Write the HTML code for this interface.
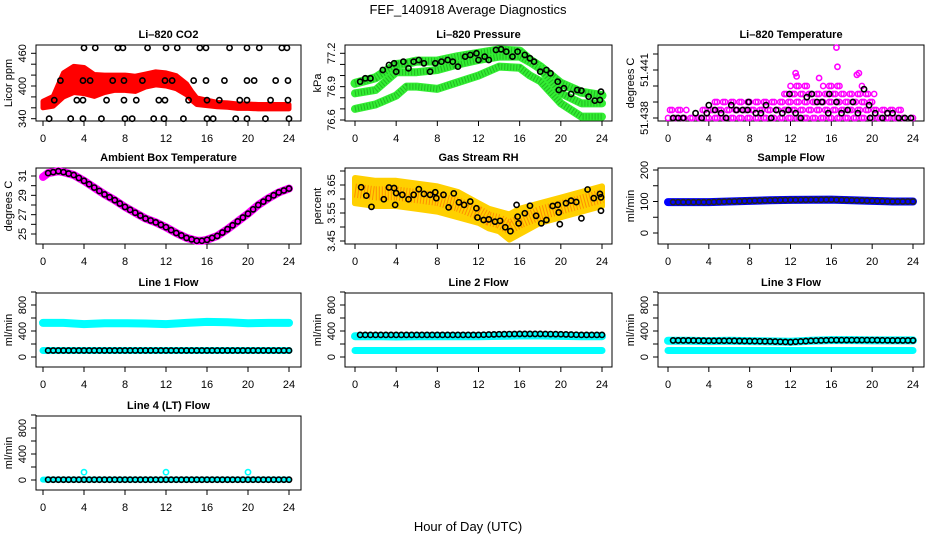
<!DOCTYPE html>
<html><head><meta charset="utf-8">
<style>
html,body{margin:0;padding:0;background:#fff;}
svg{display:block;font-family:"Liberation Sans",Arial,sans-serif;}
</style></head>
<body>
<svg id="chart" width="936" height="540" viewBox="0 0 936 540" xmlns="http://www.w3.org/2000/svg">
<rect x="0" y="0" width="936" height="540" fill="#fff"/>
<text x="468" y="14" font-size="13" text-anchor="middle">FEF_140918  Average Diagnostics</text>
<text x="468" y="531" font-size="13" text-anchor="middle">Hour of Day (UTC)</text>
</svg>
<script>
// ---------- data ----------
const xTicks = [0,4,8,12,16,20,24];

// CO2
const co2Hours = [0,1,2,3,4,5,6,7,8,9,10,11,12,13,14,14.5,15,16,17,18,19,20,21,22,23,24];
const co2Mid = [366,372,402,412,410,401,404,406,406,404,410,414,412,407,394,382,372,369,366,365,363,363,362,362,362,362];
const co2Spread = [6,9,22,24,24,20,16,14,14,14,12,12,12,12,10,8,6,5,4,4,4,4,4,4,4,4];
const co2RefHours = [4.0,5.1,7.3,7.8,10.2,12.0,13.1,15.3,15.9,18.2,19.9,21.1,23.3,23.8,
 1.7,3.9,4.6,6.8,7.9,9.7,11.9,12.6,14.7,15.9,17.7,19.9,20.6,22.7,23.9,
 1.1,3.3,3.9,6.2,7.9,9.1,11.3,11.9,14.2,16.0,17.2,19.2,19.9,22.2,23.9,
 0.6,2.7,3.9,5.7,8.0,8.7,10.8,11.8,13.7,16.0,16.6,18.8,19.9,21.7,24.0];
const co2RefVals = [470,470,470,470,470,470,470,470,470,470,470,470,470,470,
 410,410,410,410,410,410,410,410,410,410,410,410,410,410,410,
 374,374,374,374,374,374,374,374,374,374,374,374,374,374,374,
 340,340,340,340,340,340,340,340,340,340,340,340,340,340,340];

// Pressure
const pHours = [0,2,4,5,6,8,10,12,14,16,17,18,20,22,24];
const pTop = [76.93,76.98,77.10,77.11,77.13,77.13,77.17,77.20,77.23,77.22,77.14,77.08,76.93,76.85,76.82];
const pMid = [76.84,76.87,77.03,77.03,77.03,77.05,77.10,77.14,77.17,77.17,77.12,77.06,76.84,76.75,76.75];
const pLow = [76.70,76.74,76.82,76.90,76.90,76.88,76.94,77.00,77.08,77.07,77.00,76.95,76.75,76.63,76.63];
const pRefHours = [0.5,1,1.5,2.7,3.3,3.8,4,4.7,5.2,5.7,6.2,6.7,7.3,7.8,8.4,9,9.5,10,10.7,11.2,11.8,12,12.6,13,13.7,14.2,14.7,15.3,15.8,16.5,17,17.4,18,18.6,19,19.7,19.8,20.3,21,21.6,22,22.7,23.3,23.8,23.9];
const pRefVals = [76.945,76.975,76.975,77.05,77.095,77.11,77.035,77.125,77.065,77.125,77.14,77.11,77.035,77.11,77.125,77.14,77.125,77.08,77.17,77.185,77.2,77.14,77.17,77.14,77.23,77.236,77.215,77.17,77.215,77.185,77.155,77.125,77.035,77.05,77.02,76.945,76.87,76.885,76.834,76.87,76.864,76.81,76.774,76.78,76.855];

// Li-820 temperature (max per hour)
const tHours = [0,1,2,3,4,5,6,7,8,9,10,11,12,12.5,13,14,15,16,16.5,17,18,18.5,19,20,21,22,23,24];
const tMax = [51.4385,51.4385,51.4383,51.4385,51.439,51.439,51.439,51.439,51.4393,51.4393,51.4393,51.4395,51.440,51.4403,51.4403,51.4398,51.440,51.440,51.4403,51.4398,51.4398,51.4403,51.4398,51.4388,51.4388,51.4385,51.4383,51.4383];
const tOutHours = [16.5,16.6,18.7,12.5,14.8,12.6,18.5];
const tOutVals = [51.4424,51.4412,51.4408,51.4408,51.4405,51.4406,51.4407];
const tRefHours = [0.5,1,1.5,2.7,3.3,3.8,4,4.6,5.2,5.7,6.2,6.7,7.3,7.8,7.9,8.6,9.1,9.6,10.1,10.6,11.2,11.8,11.9,12.5,13,13.6,14.1,14.6,15.1,15.7,15.8,16.5,17,17.6,18.1,18.6,19.2,19.7,19.8,20.3,21,21.5,22,22.6,23.2,23.8];
const tRefVals = [51.438,51.438,51.438,51.4383,51.438,51.4383,51.4388,51.4385,51.4383,51.438,51.4388,51.4385,51.4385,51.4385,51.439,51.4383,51.4383,51.4388,51.438,51.4385,51.4383,51.4385,51.4395,51.4383,51.438,51.4393,51.4395,51.439,51.439,51.4383,51.4395,51.439,51.4383,51.4385,51.439,51.4383,51.4398,51.4388,51.438,51.4383,51.438,51.4383,51.4383,51.438,51.438,51.438];

// Ambient box temperature
const aHours = [0,0.5,1,1.5,2,3,4,5,6,7,8,9,10,11,12,13,14,15,15.5,16,17,18,19,20,21,22,23,24];
const aVals = [30.9,31.3,31.4,31.5,31.4,31.1,30.5,29.8,29.1,28.5,27.8,27.2,26.6,26.2,25.7,25.1,24.6,24.3,24.3,24.4,24.8,25.5,26.3,27.1,28.0,28.7,29.3,29.7];

// Gas stream RH
const rhHours = [0,2,4,6,8,10,12,13,14,15,16,18,20,22,24];
const rhMid = [3.63,3.62,3.62,3.61,3.60,3.58,3.55,3.53,3.52,3.50,3.52,3.55,3.57,3.59,3.61];
const rhSpread = [0.045,0.045,0.045,0.045,0.045,0.045,0.035,0.035,0.035,0.045,0.045,0.035,0.035,0.035,0.035];
const rhRefHours = [0.6,1.1,1.6,2.8,3.3,3.8,3.9,4,4.6,5.2,5.7,6.2,6.7,7.3,7.8,7.9,8.6,9.1,9.6,10.1,10.6,11.2,11.8,11.9,12.5,13,13.6,14.1,14.6,15.1,15.7,15.8,15.9,16.5,17,17.6,18.1,18.6,19.2,19.7,19.8,19.9,20.5,21,21.5,22,22.6,23.2,23.8,23.9,23.9];
const rhRefVals = [3.642,3.612,3.572,3.599,3.641,3.639,3.579,3.621,3.615,3.599,3.615,3.635,3.618,3.615,3.624,3.603,3.615,3.57,3.62,3.588,3.579,3.591,3.567,3.534,3.525,3.527,3.519,3.522,3.499,3.485,3.579,3.537,3.513,3.549,3.576,3.54,3.513,3.525,3.575,3.579,3.552,3.51,3.585,3.594,3.589,3.531,3.634,3.603,3.618,3.606,3.558];

// Sample flow
const sfHours = [0,4,8,10,12,16,18,20,22,24];
const sfVals = [98,98,102,104,105,106,104,102,100,100];

// Line flows
const fHours = [0,2,4,6,8,10,12,14,16,18,20,22,24];
const l1Cyan = [525,525,505,520,520,515,505,525,540,535,520,525,525];
const l1Low = [100,100,100,100,100,100,100,100,100,100,100,100,100];
const l1Black = [100,100,100,100,100,100,100,100,100,100,100,100,100];
const l2Cyan = [320,320,315,320,320,320,320,325,330,330,325,320,320];
const l2Low = [100,100,100,100,100,100,100,100,100,100,100,100,100];
const l2Black = [340,340,340,340,340,340,340,350,355,355,350,340,340];
const l3Cyan = [250,250,245,250,245,240,235,250,260,260,255,255,255];
const l3Low = [100,100,100,100,100,100,100,100,100,100,100,100,100];
const l3Black = [255,255,250,250,245,240,230,250,260,260,260,255,255];
const l4Cyan = [5,5,5,5,5,5,5,5,5,5,5,5,5];
const l4SpikeHours = [4,12,20];
const l4SpikeVals = [120,120,120];
const l4Black = [5,5,5,5,5,5,5,5,5,5,5,5,5];

// ---------- drawing ----------
const svg = document.getElementById('chart');
const NS = 'http://www.w3.org/2000/svg';
const cols = [{l:36,r:301,x0:43,x1:289},{l:345,r:612,x0:355,x1:602},{l:658,r:924,x0:668,x1:913}];
const rows = [{t:45,b:121},{t:168,b:244},{t:293,b:367},{t:416,b:490}];

function el(tag, attrs, parent){
  const e = document.createElementNS(NS, tag);
  for (const k in attrs) e.setAttribute(k, attrs[k]);
  (parent||svg).appendChild(e);
  return e;
}
function makePanel(ci, ri, name, title, ylab, yv0, yp0, yv1, yp1, ticks, labels){
  const c = cols[ci], r = rows[ri];
  const g = el('g', {});
  
  
  const p = {g:g, c:c, r:r,
    x: h => c.x0 + (c.x1 - c.x0) * h / 24,
    y: v => yp0 + (yp1 - yp0) * (v - yv0) / (yv1 - yv0)};
  const box = el('rect', {x:c.l, y:r.t, width:c.r-c.l, height:r.b-r.t, fill:'none', stroke:'#000', 'stroke-width':1}, g);
  
  
  const tt = el('text', {x:(c.l+c.r)/2, y:r.t-7, 'font-size':11, 'font-weight':'bold', 'text-anchor':'middle'}, g);
  tt.textContent = title;
  
  
  const xa = el('g', {}, g);
  
  
  el('line', {x1:p.x(0), x2:p.x(24), y1:r.b, y2:r.b, stroke:'#000'}, xa);
  xTicks.forEach(h => {
    el('line', {x1:p.x(h), x2:p.x(h), y1:r.b, y2:r.b+5, stroke:'#000'}, xa);
    const t = el('text', {x:p.x(h), y:r.b+21, 'font-size':11, 'text-anchor':'middle'}, xa);
    t.textContent = h;
    
    
  });
  const ya = el('g', {}, g);
  
  
  el('line', {x1:c.l, x2:c.l, y1:p.y(ticks[0]), y2:p.y(ticks[ticks.length-1]), stroke:'#000'}, ya);
  ticks.forEach(v => el('line', {x1:c.l-5, x2:c.l, y1:p.y(v), y2:p.y(v), stroke:'#000'}, ya));
  labels.forEach(lb => {
    const yy = p.y(lb.v);
    const t = el('text', {x:c.l-10, y:yy, 'font-size':11, 'text-anchor':'middle', transform:'rotate(-90 '+(c.l-10)+' '+yy+')'}, ya);
    t.textContent = lb.s;
    
    
  });
  const yl = el('text', {x:c.l-24, y:(r.t+r.b)/2, 'font-size':11, 'text-anchor':'middle', transform:'rotate(-90 '+(c.l-24)+' '+((r.t+r.b)/2)+')'}, g);
  yl.textContent = ylab;
  
  
  return p;
}
function band(p, hours, mid, spread, color, name, sw){
  let d = '';
  hours.forEach((h,i) => { d += (i?'L':'M') + p.x(h) + ' ' + p.y(mid[i] + spread[i]) + ' '; });
  for (let i = hours.length-1; i >= 0; i--) d += 'L' + p.x(hours[i]) + ' ' + p.y(mid[i] - spread[i]) + ' ';
  d += 'Z';
  const e = el('path', {d:d, fill:color, stroke:color, 'stroke-width':sw||5, 'stroke-linejoin':'round'}, p.g);
  
  
  return e;
}
function thickLine(p, hours, vals, color, w, name, extra){
  const pts = hours.map((h,i) => p.x(h) + ',' + p.y(vals[i])).join(' ');
  const a = {points:pts, fill:'none', stroke:color, 'stroke-width':w, 'stroke-linejoin':'round', 'stroke-linecap':'round'};
  if (extra) for (const k in extra) a[k] = extra[k];
  const e = el('polyline', a, p.g);
  
  
  return e;
}
function circles(p, hours, vals, color, name, r){
  const g = el('g', {}, p.g);
  
  
  hours.forEach((h,i) => {
    const c = el('circle', {cx:p.x(h), cy:p.y(vals[i]), r:r||2.6, fill:'none', stroke:color, 'stroke-width':1.6}, g);
    
    
  });
  return g;
}
function halfHourly(hours, vals, start){
  const hs = [], vs = [];
  for (let h = start; h <= 24; h += 0.5) {
    let i = 0; while (i < hours.length-2 && hours[i+1] < h) i++;
    const f = (h - hours[i]) / (hours[i+1] - hours[i]);
    hs.push(h); vs.push(vals[i] + (vals[i+1]-vals[i]) * Math.max(0, Math.min(1, f)));
  }
  return {h:hs, v:vs};
}

// Panel 1: CO2
let P = makePanel(0,0,'co2','Li\u2013820 CO2','Licor ppm',340,118.7,460,53.3,[340,360,380,400,420,440,460],[{v:340,s:'340'},{v:400,s:'400'},{v:460,s:'460'}]);
band(P, co2Hours, co2Mid, co2Spread, '#ff0000', 'co2-series-band');
circles(P, co2RefHours, co2RefVals, '#000', 'co2-reference');

// Panel 2: pressure
P = makePanel(1,0,'pressure','Li\u2013820 Pressure','kPa',76.6,120,77.2,53.3,[76.6,76.7,76.8,76.9,77.0,77.1,77.2],[{v:76.6,s:'76.6'},{v:76.9,s:'76.9'},{v:77.2,s:'77.2'}]);
[[pTop,9,'top'],[pMid,8,'mid'],[pLow,8,'low']].forEach(s => {
  thickLine(P, pHours, s[0], '#33ee33', s[1], 'pressure-band-' + s[2]);
  thickLine(P, pHours, s[0], '#118811', s[1]-2, 'pressure-band-' + s[2] + '-texture', {'stroke-dasharray':'1 2', 'stroke-linecap':'butt', opacity:0.5});
});
circles(P, pRefHours, pRefVals, '#000', 'pressure-reference');

// Panel 3: Li-820 temperature
P = makePanel(2,0,'li820-temp','Li\u2013820 Temperature','degrees C',51.438,118,51.441,70,[51.438,51.439,51.440,51.441,51.442],[{v:51.438,s:'51.438'},{v:51.441,s:'51.441'}]);
(function(){
  const g = el('g', {}, P.g);
  
  
  let k = 0;
  for (let h = 0; h <= 24; h += 0.4) {
    let i = 0; while (i < tHours.length-1 && tHours[i+1] <= h) i++;
    const mx = tMax[i];
    let j = 0;
    for (let v = 51.438; v <= mx + 1e-9; v += 0.0005) {
      const c = el('circle', {cx:P.x(h) + ((j+k)%2)*2, cy:P.y(v), r:2.6, fill:'none', stroke:'#ff00ff', 'stroke-width':1.5}, g);
      
      
      j++;
    }
    k++;
  }
})();
circles(P, tOutHours, tOutVals, '#ff00ff', 'li820-temp-outliers');
circles(P, tRefHours, tRefVals, '#000', 'li820-temp-reference');

// Panel 4: ambient box temperature
P = makePanel(0,1,'ambient-temp','Ambient Box Temperature','degrees C',25,234,31,176,[25,26,27,28,29,30,31],[{v:25,s:'25'},{v:27,s:'27'},{v:29,s:'29'},{v:31,s:'31'}]);
thickLine(P, aHours, aVals, '#ff00ff', 8, 'ambient-temp-series');
let hh = halfHourly(aHours, aVals, 0.5);
circles(P, hh.h, hh.v, '#000', 'ambient-temp-reference');

// Panel 5: Gas stream RH
P = makePanel(1,1,'gas-rh','Gas Stream RH','percent',3.45,241,3.65,185,[3.45,3.50,3.55,3.60,3.65,3.70],[{v:3.45,s:'3.45'},{v:3.55,s:'3.55'},{v:3.65,s:'3.65'}]);
band(P, rhHours, rhMid, rhSpread, '#ffd000', 'gas-rh-band', 6);
(function(){
  const pts = rhHours.map((h,i) => P.x(h) + ',' + P.y(rhMid[i])).join(' ');
  const e = el('polyline', {points:pts, fill:'none', stroke:'#ff5a00', 'stroke-width':14, 'stroke-dasharray':'1 2', opacity:0.55}, P.g);
  
  
})();
circles(P, rhRefHours, rhRefVals, '#000', 'gas-rh-reference');

// Panel 6: sample flow
P = makePanel(2,1,'sample-flow','Sample Flow','ml/min',0,233,200,170,[0,50,100,150,200],[{v:0,s:'0'},{v:100,s:'100'},{v:200,s:'200'}]);
thickLine(P, sfHours, sfVals, '#0000ff', 8, 'sample-flow-series');
hh = halfHourly(sfHours, sfVals, 0.5);
circles(P, hh.h, hh.v, '#222', 'sample-flow-reference');

// Line flows
const flowTicks = [0,200,400,600,800,1000];
const flowLabels = [{v:0,s:'0'},{v:400,s:'400'},{v:800,s:'800'}];
function flowPanel(ci, ri, name, title, cyan, low, black){
  const p = makePanel(ci, ri, name, title, 'ml/min', 0, rows[ri].t+64, 800, rows[ri].t+12, flowTicks, flowLabels);
  thickLine(p, fHours, cyan, '#00ffff', 8, name + '-series-high');
  thickLine(p, fHours, low, '#00ffff', 7, name + '-series-low');
  const b = halfHourly(fHours, black, 0.5);
  circles(p, b.h, b.v, '#000', name + '-reference');
  return p;
}
flowPanel(0,2,'line1-flow','Line 1 Flow', l1Cyan, l1Low, l1Black);
flowPanel(1,2,'line2-flow','Line 2 Flow', l2Cyan, l2Low, l2Black);
flowPanel(2,2,'line3-flow','Line 3 Flow', l3Cyan, l3Low, l3Black);
P = makePanel(0,3,'line4-flow','Line 4 (LT) Flow','ml/min',0,rows[3].t+64,800,rows[3].t+12,flowTicks,flowLabels);
thickLine(P, fHours, l4Cyan, '#00ffff', 6, 'line4-flow-series');
circles(P, l4SpikeHours, l4SpikeVals, '#00ffff', 'line4-flow-spikes');
hh = halfHourly(fHours, l4Black, 0.5);
circles(P, hh.h, hh.v, '#000', 'line4-flow-reference');
</script>
</body></html>
